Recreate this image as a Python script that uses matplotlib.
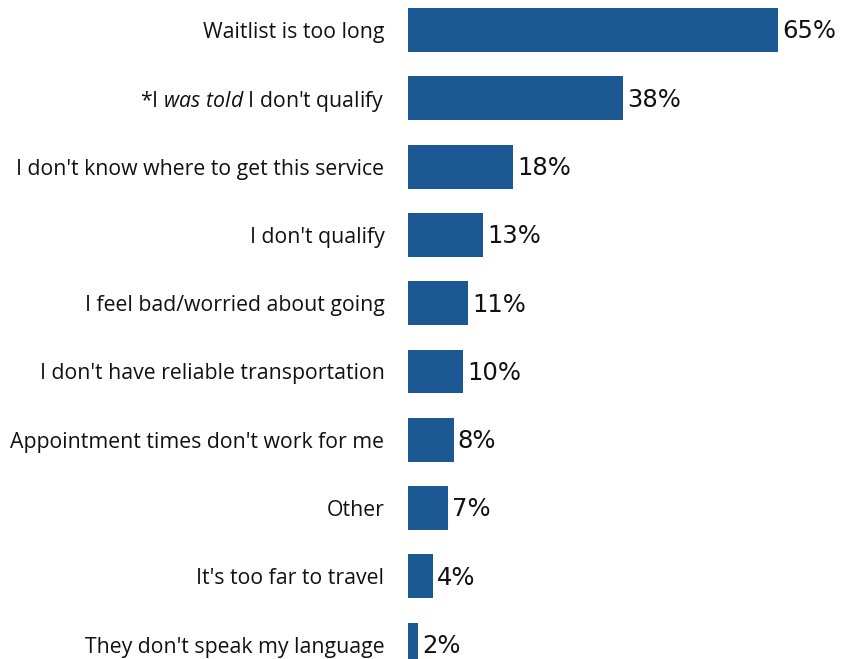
import matplotlib
matplotlib.use("Agg")
import matplotlib.pyplot as plt

reasons = [
    "Waitlist is too long",
    "*I $\\mathit{was\\ told}$ I don't qualify",
    "I don't know where to get this service",
    "I don't qualify",
    "I feel bad/worried about going",
    "I don't have reliable transportation",
    "Appointment times don't work for me",
    "Other",
    "It's too far to travel",
    "They don't speak my language",
]
# bar lengths (labels are the rounded values)
percent = [65.0, 37.8, 18.45, 13.2, 10.5, 9.7, 8.0, 7.0, 4.4, 1.7]
labels = ["65%", "38%", "18%", "13%", "11%", "10%", "8%", "7%", "4%", "2%"]

plt.rcParams['mathtext.fontset'] = 'custom'
plt.rcParams['mathtext.rm'] = 'Open Sans'
plt.rcParams['mathtext.it'] = 'Open Sans:italic'

fig = plt.figure(figsize=(8.56, 6.59), dpi=100)
ax = fig.add_axes([408 / 856, 0, 1 - 408 / 856, 1])

ys = list(range(len(reasons)))
ax.barh(ys, percent, height=0.644, color="#1c5894")

for y, v, lab in zip(ys, percent, labels):
    ax.annotate(lab, (v, y), xytext=(3, -1), textcoords="offset points",
                va="center", ha="left", fontsize=17.5, family="DejaVu Sans",
                color="#111111")

ax.set_yticks(ys)
ax.set_yticklabels(reasons, fontsize=15.3, family="Open Sans", color="#111111")
ax.tick_params(axis="y", length=0, pad=17)
ax.set_xticks([])
ax.set_xlim(0, 78.7)
ax.set_ylim(9.21, -0.44)
for s in ax.spines.values():
    s.set_visible(False)

fig.savefig("out.png", dpi=100)
